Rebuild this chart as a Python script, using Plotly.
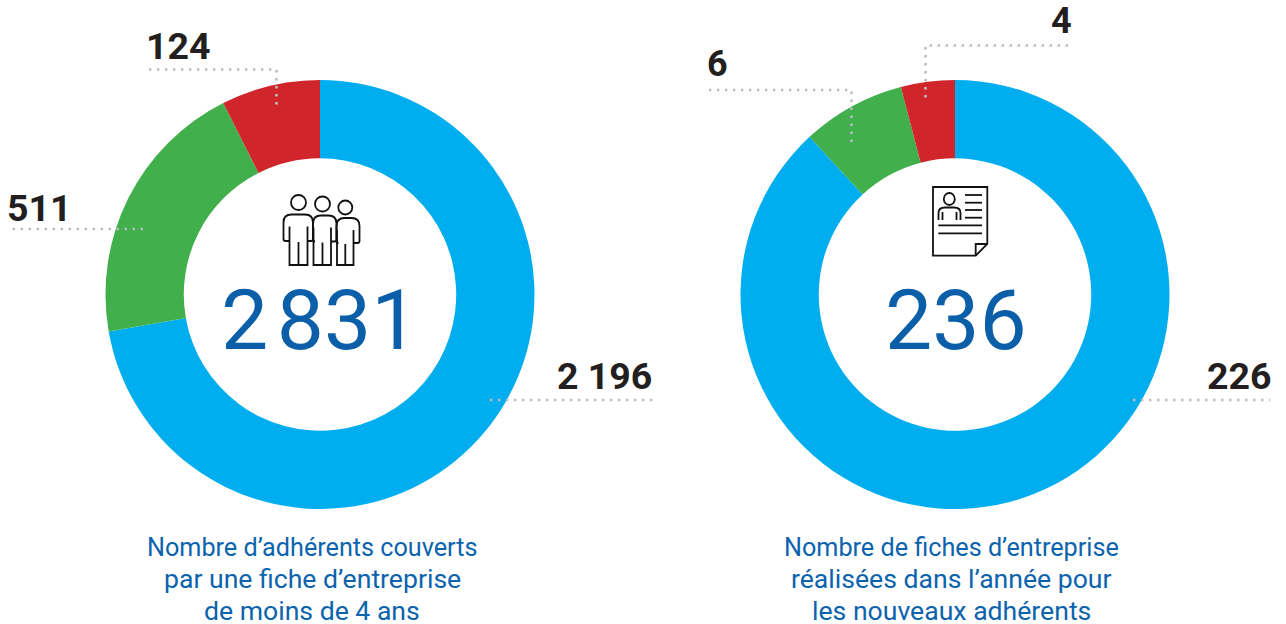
import plotly.graph_objects as go

W, H = 1286, 624
categories = ["Bleu", "Vert", "Rouge"]
colors = ["#00aeef", "#41b04c", "#d1252c"]
# Printed values (the printed rings are not drawn to scale)
left_values = ["2 196", "511", "124"]
right_values = ["226", "6", "4"]
# Ring shares (%)
left_shares = [72.25, 20.3, 7.45]
right_shares = [88.14, 7.8, 4.06]
left_total = "2\u200a831"
right_total = "236"
left_caption = ["Nombre d’adhérents couverts", "par une fiche d’entreprise", "de moins de 4 ans"]
right_caption = ["Nombre de fiches d’entreprise", "réalisées dans l’année pour", "les nouveaux adhérents"]

R, HOLE = 214.5, 0.635
LEFT_C, RIGHT_C, CY = (320, 955, 294.5)
fig = go.Figure()
for cx, shares in ((LEFT_C, left_shares), (RIGHT_C, right_shares)):
    fig.add_trace(go.Pie(
        labels=categories, values=shares, sort=False, direction="clockwise", rotation=0,
        hole=HOLE, textinfo="none", hoverinfo="label", showlegend=False,
        marker=dict(colors=colors, line=dict(width=0)),
        domain=dict(x=[(cx - R) / W, (cx + R) / W], y=[1 - (CY + R) / H, 1 - (CY - R) / H]),
    ))
fig.add_trace(go.Scatter(x=[None], y=[None], showlegend=False, hoverinfo="skip"))

shapes = []
DOT = dict(color="#bcbdc0", width=2.6, dash="2.4px,5.6px")
def leader(*pts):
    path = "M" + " L".join(f"{x},{y}" for x, y in pts)
    shapes.append(dict(type="path", path=path, xref="x", yref="y", line=DOT, layer="above"))
leader((149, 69.5), (276.5, 69.5), (276.5, 109))
leader((143, 229), (7, 229))
leader((490, 400), (653, 400))
leader((709, 90), (851.5, 90), (851.5, 145))
leader((1068, 45.5), (925.5, 45.5), (925.5, 101))
leader((1133, 400), (1270, 400))

INK = dict(color="#111111", width=1.8)
def path(d):
    shapes.append(dict(type="path", path=d, xref="x", yref="y", line=INK, fillcolor="rgba(0,0,0,0)", layer="above"))
def head(cx, cy, rx, ry):
    shapes.append(dict(type="circle", x0=cx - rx, x1=cx + rx, y0=cy - ry, y1=cy + ry,
                       xref="x", yref="y", line=INK, fillcolor="rgba(0,0,0,0)", layer="above"))
def person(cx, hy, r, top, lft, rgt, il, ir, arm, foot):
    head(cx, hy, r, r)
    path(f"M{il},{arm} L{lft + 2},{arm} Q{lft},{arm} {lft},{arm - 2} L{lft},{top + 8} "
         f"Q{lft},{top} {lft + 8},{top} L{rgt - 8},{top} Q{rgt},{top} {rgt},{top + 8} "
         f"L{rgt},{arm - 2} Q{rgt},{arm} {rgt - 2},{arm} L{ir},{arm}")
    path(f"M{il},{top + 12} L{il},{foot} L{ir},{foot} L{ir},{top + 12}")
    path(f"M{cx},{arm + 1} L{cx},{foot}")
person(298.5, 202.5, 7.5, 214.5, 283.5, 313, 289.5, 307.5, 241, 265)
person(322.5, 204, 7.5, 215.5, 313, 336.5, 313.5, 331, 241.5, 265)
person(345.3, 207.5, 7, 218, 336.5, 359.5, 337, 353.5, 243, 265)

path("M933,187 L987.3,187 L987.3,244 L975.7,255.7 L933,255.7 Z")
path("M987.3,244 L975.7,244 L975.7,255.7")
head(949.3, 199, 5.5, 6)
path("M938.5,220 L938.5,213 Q938.5,207.5 945,207.5 L954,207.5 Q960.5,207.5 960.5,213 L960.5,220")
path("M942.5,220 L942.5,212")
path("M956.5,220 L956.5,212")
for y in (195, 202.7, 210, 217.7):
    path(f"M965,{y} L982,{y}")
for y in (225.3, 233.3):
    path(f"M938.3,{y} L982,{y}")

ann = []
def text(s, x, y, size, color, anchor="center", weight=400, family="Roboto"):
    ann.append(dict(text=s, x=x, y=y, xref="x", yref="y", xanchor=anchor, yanchor="middle", showarrow=False,
                    font=dict(family=family, size=size, color=color, weight=weight)))
DARK = "#231f20"
text(left_values[2], 178, 46, 37.5, DARK, weight=700)
text(left_values[1], 39.5, 208, 37.5, DARK, weight=700)
text(left_values[0], 604, 376, 37.5, DARK, weight=700)
text(right_values[2], 1061, 21, 36, DARK, weight=700)
text(right_values[1], 717, 64, 36, DARK, weight=700)
text(right_values[0], 1239, 376, 37.5, DARK, weight=700)
BLUE = "#0b5ea8"
text(left_total, 319, 320, 84, BLUE, weight=400)
text(right_total, 956, 320, 84, BLUE, weight=400)
sizes = (25.2, 26.6, 26.6)
for i, y in enumerate((547, 578, 610)):
    text(left_caption[i], 312, y, sizes[i], "#0b63ae")
    text(right_caption[i], 951, y, sizes[i], "#0b63ae")

fig.update_layout(
    width=W, height=H, margin=dict(l=0, r=0, t=0, b=0), paper_bgcolor="white", plot_bgcolor="white",
    xaxis=dict(range=[0, W], visible=False, fixedrange=True),
    yaxis=dict(range=[H, 0], visible=False, fixedrange=True),
    shapes=shapes, annotations=ann,
)
fig.write_html("out.html", config=dict(displayModeBar=False),
               post_script="document.body.style.margin='0';document.body.style.overflow='hidden';")
